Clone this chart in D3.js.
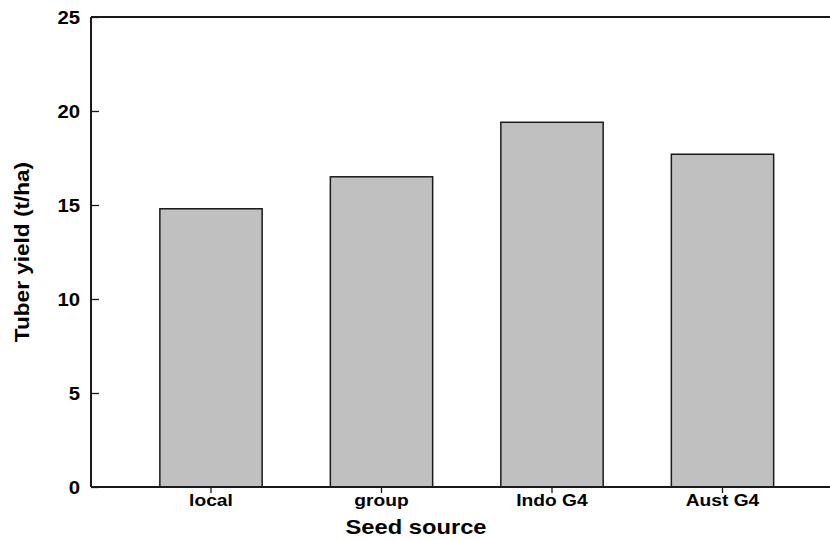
<!DOCTYPE html>
<html><head><meta charset="utf-8">
<script src="https://cdn.jsdelivr.net/npm/d3@7"></script>
<style>body{margin:0;background:#fff}</style>
</head><body>
<script>
const categories = ["local", "group", "Indo G4", "Aust G4"];
const values = [14.8, 16.5, 19.4, 17.7];
const yTicks = [0, 5, 10, 15, 20, 25];

const W = 830, H = 540;
const mLeft = 91, mTop = 17, mBottom = 487, mRight = 830;
const stretch = 1.13;
const svg = d3.select("body").append("svg").attr("width", W).attr("height", H)
  .style("font-family", "'Liberation Sans', Arial, sans-serif").style("font-weight", "bold");

const y = d3.scaleLinear().domain([0, 25]).range([mBottom, mTop]);
const x = d3.scaleBand().domain(categories).range([125.75, 807.75]).paddingInner(0.4).paddingOuter(0.2);

// bars
svg.selectAll("rect.bar").data(values).join("rect")
  .attr("class", "bar")
  .attr("x", (d, i) => x(categories[i]))
  .attr("width", x.bandwidth())
  .attr("y", d => y(d))
  .attr("height", d => mBottom - y(d))
  .attr("fill", "#c0c0c0").attr("stroke", "#1a1a1a").attr("stroke-width", 1.5);

// y axis
const ya = svg.append("g").attr("transform", `translate(${mLeft},0)`)
  .call(d3.axisRight(y).tickValues(yTicks).tickSize(8).tickFormat(d3.format("d")));
ya.select(".domain").remove();
ya.selectAll("line").attr("stroke", "#1a1a1a").attr("stroke-width", 1.3);
ya.selectAll("text").attr("x", 0).attr("transform", `translate(-11,0) scale(${stretch},1)`)
  .attr("text-anchor", "end").attr("dy", "0.35em")
  .style("font-size", "18px").style("font-weight", "bold").attr("fill", "#000")
  .style("font-family", "'Liberation Sans', Arial, sans-serif");

// x axis
const xa = svg.append("g").attr("transform", `translate(0,${mBottom})`)
  .call(d3.axisBottom(x).tickSize(6).tickSizeOuter(0));
xa.select(".domain").remove();
xa.selectAll("line").attr("stroke", "#1a1a1a").attr("stroke-width", 1.3);
xa.selectAll("text").attr("y", 0).attr("transform", `translate(0,7) scale(${stretch},1)`)
  .attr("dy", "0.71em")
  .style("font-size", "17px").style("font-weight", "bold").attr("fill", "#000")
  .style("font-family", "'Liberation Sans', Arial, sans-serif");

// frame lines
svg.append("line").attr("x1", mLeft).attr("x2", mRight).attr("y1", mBottom).attr("y2", mBottom)
  .attr("stroke", "#1a1a1a").attr("stroke-width", 2);
svg.append("line").attr("x1", mLeft).attr("x2", mRight).attr("y1", mTop).attr("y2", mTop)
  .attr("stroke", "#1a1a1a").attr("stroke-width", 2);
svg.append("line").attr("x1", mLeft).attr("x2", mLeft).attr("y1", mTop).attr("y2", mBottom)
  .attr("stroke", "#1a1a1a").attr("stroke-width", 2);

// titles
svg.append("text").attr("transform", `translate(416,534) scale(${stretch},1)`).attr("text-anchor", "middle")
  .style("font-size", "21px").text("Seed source");
svg.append("text").attr("transform", `translate(29,252) rotate(-90) scale(${stretch},1)`).attr("text-anchor", "middle")
  .style("font-size", "20px").text("Tuber yield (t/ha)");
</script>
</body></html>
